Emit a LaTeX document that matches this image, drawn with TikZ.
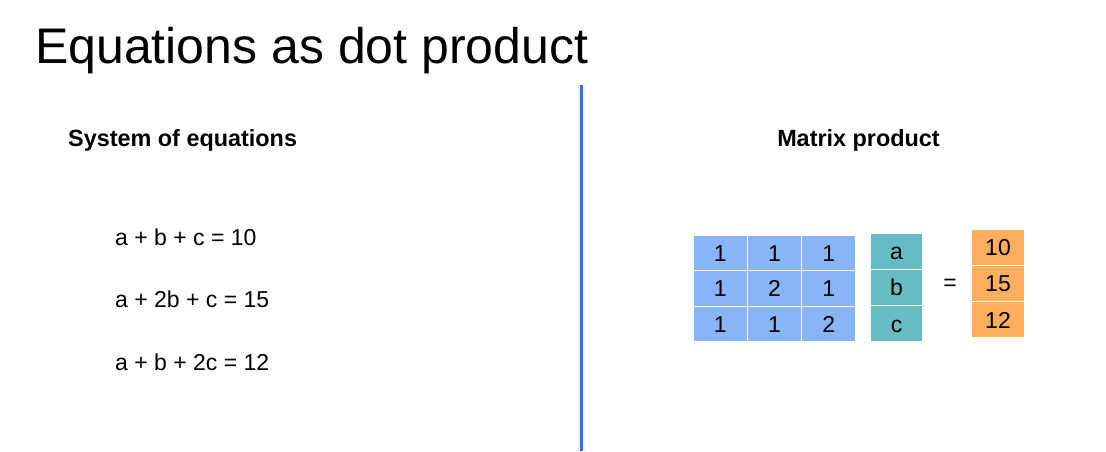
\documentclass[tikz,border=0pt]{standalone}
\usepackage{fontspec}
\setmainfont{Liberation Sans}
\usepackage{tikz}
\usetikzlibrary{positioning}
\usepackage{xcolor}
\definecolor{myblue}{HTML}{8AB4F8}
\definecolor{myteal}{HTML}{66BBC4}
\definecolor{myorange}{HTML}{FFAD5F}
\definecolor{myline}{HTML}{3B6FD9}
\tikzset{
  cell/.style={draw=white, line width=1.2pt, inner sep=0pt, text height=16.5pt, text depth=0pt, font=\fontsize{23}{26}\selectfont},
  matcell/.style={cell, fill=myblue, minimum width=54.3pt, minimum height=35.3pt},
  veccell/.style={cell, fill=myteal, minimum width=53pt, minimum height=36.3pt},
  rescell/.style={cell, fill=myorange, minimum width=54pt, minimum height=36.3pt},
  eqn/.style={anchor=base west, inner sep=0pt, font=\fontsize{23}{26}\selectfont},
  heading/.style={inner sep=0pt, font=\fontsize{23.4}{27}\selectfont\bfseries}
}
\begin{document}
\begin{tikzpicture}[x=1pt, y=-1pt]
				\useasboundingbox (0,0) rectangle (1106,451);
				\node[anchor=base west, inner sep=0pt, font=\fontsize{50}{58}\selectfont] (title) at (35,63) {Equations as dot product};
				% divider
				\coordinate (divtop) at (581.5,85);
				\coordinate (divbot) at (581.5,451);
				\draw [line width=7pt, black!7] (divtop) -- (divbot);
				\draw [line width=3pt, myline] (divtop) -- (divbot);
				% left half
				\node[heading, anchor=base west] (sys) at (68,146) {System of equations};
				\node[eqn] (eq1) at (115,245) {a + b + c = 10};
				\node[eqn] (eq2) at (115,307) {a + 2b + c = 15};
				\node[eqn] (eq3) at (115,370) {a + b + 2c = 12};
				% right half
				\node[heading, anchor=base] (mat) at (858.5,146) {Matrix product};
				\foreach \r/\y/\ra/\rb/\rc in {1/253.2/1/1/1, 2/288.5/1/2/1, 3/323.8/1/1/2}{
					\node[matcell] (m\r1) at (720.2,\y) {\ra};
					\node[matcell] (m\r2) at (774.5,\y) {\rb};
					\node[matcell] (m\r3) at (828.8,\y) {\rc};
				}
				\foreach \i/\y/\t in {1/251.2/a, 2/287.5/b, 3/323.8/c}
					\node[veccell] (v\i) at (896.5,\y) {\t};
				\node[font=\fontsize{23}{26}\selectfont] (equals) at (950,285) {=};
				\foreach \i/\y/\t in {1/247.2/10, 2/283.5/15, 3/319.8/12}
					\node[rescell] (r\i) at (998,\y) {\t};
			\end{tikzpicture}
\end{document}
